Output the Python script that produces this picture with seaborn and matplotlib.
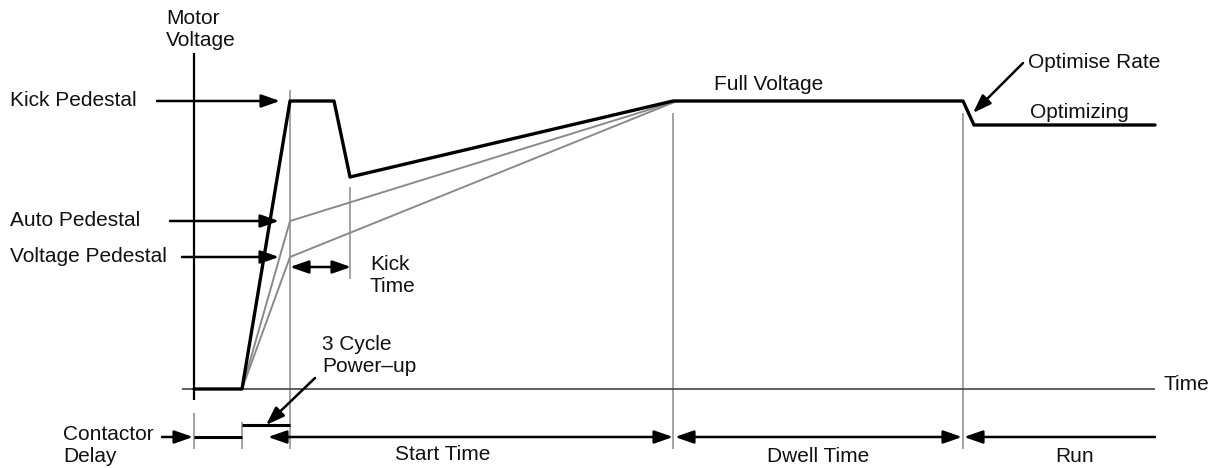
import matplotlib
matplotlib.use("Agg")
import matplotlib.pyplot as plt
import seaborn as sns
import pandas as pd

sns.set_theme(style="white")
plt.rcParams['font.family'] = ['Liberation Sans', 'DejaVu Sans']

# ---- diagram data (time positions and voltage levels, in drawing units) ----
profile_time = [194, 242, 290, 334, 350, 673, 963, 974, 1155]
profile_volt = [389, 389, 101, 101, 177, 101, 101, 125, 125]

auto_time = [242, 290, 677]
auto_volt = [389, 221, 101]
ped_time = [242, 290, 677]
ped_volt = [389, 257, 101]

axis_x = 194
axis_top, axis_bottom = 53, 400
baseline_y = 389
baseline_x = [182, 1155]

guide_x = [290, 350, 673, 963]
guide_top = [90, 187, 113, 113]
guide_bottom = [449, 279, 449, 449]
tick_x = [194, 242]
tick_top = [413, 422]
tick_bottom = [449, 449]

phase_row = 437
powerup_row = 425

GREY = "#8a8a8a"
FS = 15

fig = plt.figure(figsize=(12.11, 4.68), dpi=100)
ax = fig.add_axes([0, 0, 1, 1])

# grey guide lines
ax.vlines(guide_x, guide_top, guide_bottom, colors=GREY, lw=1.1)
ax.vlines(tick_x, tick_top, tick_bottom, colors=GREY, lw=1.1)
ax.hlines(baseline_y, baseline_x[0], baseline_x[1], colors="#444444", lw=1.2)

# pedestal ramps
df_ramps = pd.DataFrame({
    "t": auto_time + ped_time,
    "v": auto_volt + ped_volt,
    "s": ["auto"] * 3 + ["ped"] * 3,
})
sns.lineplot(data=df_ramps, x="t", y="v", hue="s", units="s", estimator=None,
             sort=False, palette=[GREY, GREY], lw=1.4, legend=False, ax=ax)

# main voltage profile
df_prof = pd.DataFrame({"t": profile_time, "v": profile_volt})
sns.lineplot(data=df_prof, x="t", y="v", sort=False, estimator=None,
             color="black", lw=2.4, ax=ax)

# voltage axis
ax.vlines(axis_x, axis_top, axis_bottom, colors="black", lw=1.6)

# bottom bars
ax.hlines(phase_row, 194, 242, colors="black", lw=2.2)
ax.hlines(powerup_row, 242, 290, colors="black", lw=2.2)

ax.set_xlim(0, 1211)
ax.set_ylim(468, 0)
ax.axis("off")

def arrow(x0, y0, x1, y1, style="-|>"):
    ax.annotate("", xy=(x1, y1), xytext=(x0, y0),
                arrowprops=dict(arrowstyle=f"{style},head_length=0.8,head_width=0.28",
                                color="black", lw=1.8, shrinkA=0, shrinkB=0,
                                mutation_scale=14))

arrow(157, 101, 280, 101)
arrow(170, 221, 279, 221)
arrow(182, 257, 279, 257)
arrow(290, 267, 351, 267, "<|-|>")
arrow(315, 378, 266, 425)
arrow(162, 437, 193, 437)
arrow(289, 437, 268, 437)
arrow(289, 437, 673, 437)
arrow(675, 437, 962, 437, "<|-|>")
arrow(1155, 437, 964, 437)
arrow(1023, 63, 973, 113)

def txt(x, y, s, ha="left"):
    ax.text(x, y, s, ha=ha, va="center", fontsize=FS, color="#111111", linespacing=1.2)

txt(166, 30, "Motor\nVoltage")
txt(10, 100, "Kick Pedestal")
txt(10, 220, "Auto Pedestal")
txt(10, 256, "Voltage Pedestal")
txt(370, 275, "Kick\nTime")
txt(322, 355, "3 Cycle\nPower–up")
txt(63, 446, "Contactor\nDelay")
txt(443, 455, "Start Time", ha="center")
txt(818, 457, "Dwell Time", ha="center")
txt(1075, 457, "Run", ha="center")
txt(1163, 385, "Time")
txt(714, 84, "Full Voltage")
txt(1028, 62, "Optimise Rate")
txt(1030, 112, "Optimizing")

fig.savefig("out.png", dpi=100)
